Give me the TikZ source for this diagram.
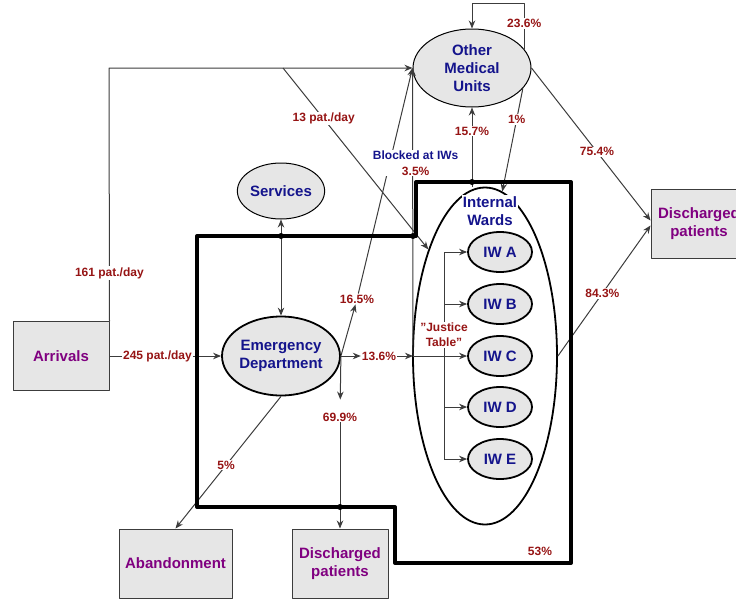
\documentclass[tikz,border=0pt]{standalone}
\usepackage{fontspec}
\setmainfont{Liberation Sans}
\usetikzlibrary{arrows.meta,shapes.geometric}
\definecolor{flowred}{RGB}{150,20,20}
\definecolor{unitblue}{RGB}{20,20,140}
\definecolor{boxpurple}{RGB}{128,0,128}
\definecolor{unitgray}{RGB}{230,230,230}
\definecolor{linegray}{RGB}{60,60,60}
\begin{document}
\begin{tikzpicture}[x=1pt, y=-1pt, line join=round, >={Stealth[length=8pt,width=6.5pt]},
	font=\fontsize{15}{18}\selectfont\bfseries,
	unit/.style={ellipse, draw, fill=unitgray, inner sep=0pt, align=center, text=unitblue},
	ward/.style={unit, line width=1.8pt, minimum width=64pt, minimum height=40pt},
	outbox/.style={rectangle, draw=linegray, line width=1pt, fill=unitgray, inner sep=0pt, align=center, text=boxpurple, minimum height=69pt},
	flow/.style={->, draw=linegray, line width=1pt},
	lbl/.style={fill=white, inner sep=1pt, text=flowred, font=\fontsize{12}{15}\selectfont\bfseries, align=center},
	wall/.style={line width=4pt}]
	\useasboundingbox (0,0) rectangle (736,600);
	\path
	(109,68) coordinate (corner)
	(283,68) coordinate (fork)
	(472,3) coordinate (loop)
	(413,356) coordinate (jt)
	(444,356) coordinate (bus)
	;
	\node[outbox, minimum width=96pt] (arr) at (61,356) {Arrivals};
	\node[outbox, minimum width=113pt] (aban) at (175.5,563.5) {Abandonment};
	\node[outbox, minimum width=96pt] (disb) at (340,563.5) {Discharged\\patients};
	\node[outbox, minimum width=96pt] (disr) at (699,223.5) {Discharged\\patients};
	\node[unit, line width=1.8pt, minimum width=118pt, minimum height=79pt] (ed) at (281,356) {Emergency\\Department};
	\node[unit, line width=1pt, minimum width=84pt, minimum height=56pt] (srv) at (281,191) {Services};
	\node[unit, line width=1pt, minimum width=118pt, minimum height=78pt] (omu) at (472,68) {Other\\Medical\\Units};
	\node[ellipse, draw, line width=1.8pt, minimum width=144pt, minimum height=337pt] (iw) at (485,356) {};
	\node[fill=white, inner sep=1pt, align=center, text=unitblue] (iwname) at (490,211) {Internal\\Wards};
	\foreach \w/\n/\y in {a/A/252, b/B/304, c/C/356, d/D/407, e/E/459}
	\node[ward] (iw\w) at (500,\y) {IW \n};
	\draw[draw=linegray, line width=1pt] (iwa.west -| bus) -- node[lbl, pos=0.4] {"Justice\\Table"} (iwe.west -| bus);
	\foreach \w in {a,b,d,e}
	\draw[flow] (iw\w.west -| bus) -- (iw\w);
	\node[lbl] (l136) at (379,356) {13.6\%};
	\node[lbl] (l165) at (357,299) {16.5\%};
	\node[lbl] (l699) at (340,417) {69.9\%};
	\draw[flow] (arr) -- node[lbl, pos=0.43] {245 pat./day} (ed);
	\draw[flow] (arr.north east) -- node[lbl, pos=0.19] {161 pat./day} (corner) -- (omu.west);
	\draw[flow] (fork) -- node[lbl, pos=0.28] {13 pat./day} (iw.118);
	\draw[flow, <->] (ed) -- (srv);
	\draw[flow] (ed.south) -- node[lbl, pos=0.52] {5\%} (aban.north);
	\draw[flow] (ed.east) -- (l136);
	\draw[flow] (l136) -- (jt);
	\draw[flow] (jt) -- (iwc);
	\draw[flow] (ed.east) -- (l165);
	\draw[flow] (l165) -- (omu.west);
	\draw[flow, shorten >=12pt] (ed.east) -- (l699);
	\draw[flow] (l699) -- (disb);
	\draw[flow] (jt) -- node[pos=0.67, xshift=3pt, fill=white, inner sep=1pt, align=center, text=unitblue, font=\fontsize{12}{16}\selectfont\bfseries] {Blocked at IWs\\\textcolor{flowred}{3.5\%}} (omu.west);
	\draw[flow] (omu.20) |- node[lbl, pos=0.28] {23.6\%} (loop) -- (omu.north);
	\draw[flow] (iw.north -| omu.south) -- node[lbl, pos=0.7] {15.7\%} (omu.south);
	\draw[flow] (omu.-22) -- node[lbl, pos=0.3] {1\%} (iw.84);
	\draw[flow] (omu.east) -- node[lbl, pos=0.55] {75.4\%} ([yshift=3pt]disr.west);
	\draw[flow] (iw.east) -- node[lbl, pos=0.48] {84.3\%} ([yshift=-2pt]disr.west);
	\draw[wall] (197,236) -- (416,236) -- (416,182) -- (571,182) -- (571,563) -- (395,563) -- (395,507) -- (197,507) -- cycle;
	\foreach \p in {(281,236), (413,236), (472,182), (340,507)}
	\fill \p circle (3pt);
	\node[lbl, fill=none] (p53) at (540,551) {53\%};
\end{tikzpicture}
\end{document}
